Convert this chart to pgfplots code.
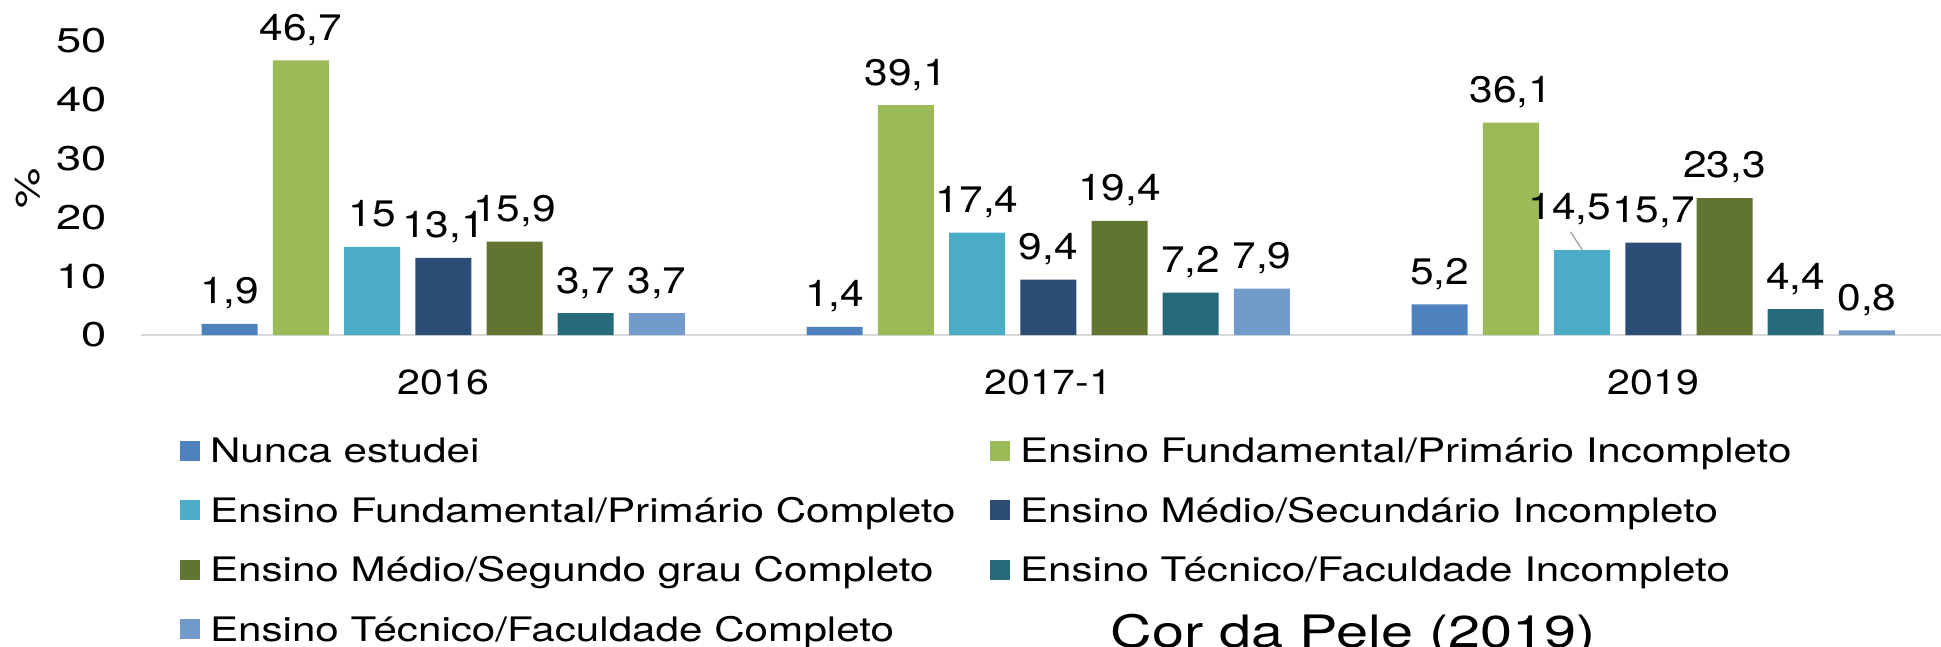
\documentclass[border=0pt]{standalone}
\usepackage{pgfplots}
\pgfplotsset{compat=1.18}
\usepackage{fontspec}
\setmainfont{TeX Gyre Heros}
\newfontfamily\tickfont[FakeStretch=1.32]{TeX Gyre Heros}
\newfontfamily\xfont[FakeStretch=1.18]{TeX Gyre Heros}
\newfontfamily\labfont[FakeStretch=1.15]{TeX Gyre Heros}
\newfontfamily\legfont[FakeStretch=1.25]{TeX Gyre Heros}
\newfontfamily\titfont[FakeStretch=1.29]{TeX Gyre Heros}
\definecolor{c1}{HTML}{4F81BD}
\definecolor{c2}{HTML}{9BBB59}
\definecolor{c3}{HTML}{4BACC6}
\definecolor{c4}{HTML}{2C4D75}
\definecolor{c5}{HTML}{617530}
\definecolor{c6}{HTML}{276A7C}
\definecolor{c7}{HTML}{729ACA}
\definecolor{axgray}{HTML}{D9D9D9}
\pgfplotsset{
  mybar/.style 2 args={ybar, bar width=5.6mm, bar shift=0pt, xshift=#2, fill=#1, draw=none,
    legend image code/.code={\fill[#1, xshift={-(#2)}] (0mm,-1mm) rectangle (2mm,1mm);},
    nodes near coords,
    nodes near coords style={font=\labfont\fontsize{10.5}{12}\selectfont, text=black,
      anchor=base, inner sep=0pt, yshift=2mm}},
}
\begin{document}
\begin{tikzpicture}
\useasboundingbox (0,0) rectangle (194.1mm,-64.7mm);
\clip (0,0) rectangle (194.1mm,-64.7mm);
\begin{axis}[
  at={(14.08mm,-33.5mm)}, anchor=south west,
  scale only axis, width=181.5mm, height=29.4mm,
  xmin=-0.5, xmax=2.5, ymin=0, ymax=50,
  clip=false,
  axis x line=bottom, axis y line=left,
  x axis line style={-, draw=axgray, line width=0.65pt},
  y axis line style={draw=none},
  major tick length=0pt, tick style={draw=none},
  /pgf/number format/.cd, use comma, assume math mode=true, /pgfplots/.cd,
  xtick={0,1,2}, xticklabels={2016,2017-1,2019},
  xticklabel style={font=\xfont\fontsize{9.9}{11}\selectfont, anchor=center, inner sep=0pt, yshift=-4.75mm},
  ytick={0,10,20,30,40,50},
  yticklabel style={font=\tickfont\fontsize{9.76}{11}\selectfont, anchor=east, inner sep=0pt, xshift=-3.35mm},
  ylabel={\%},
  ylabel style={at={(axis description cs:-0.0624,0.5)}, anchor=center, inner sep=0pt,
    font=\tickfont\fontsize{9.76}{11}\selectfont},
  legend columns=2, legend cell align=left,
  legend style={draw=none, fill=none, at={(axis description cs:0.0216,-0.352)}, anchor=north west,
    inner sep=0pt, outer sep=0pt, row sep=3.52mm, column sep=0pt,
    nodes={inner sep=0pt, text height=2.43mm, text depth=0pt, font=\legfont\fontsize{9.6}{11}\selectfont},
    /tikz/every odd column/.style={column sep=1mm}},
]
\addplot[mybar={c1}{-21.36mm}] coordinates {(0,1.9) (1,1.4) (2,5.2)};
\addlegendentry{\makebox[78mm][l]{Nunca estudei}}
\addplot[mybar={c2}{-14.24mm}] coordinates {(0,46.7) (1,39.1) (2,36.1)};
\addlegendentry{Ensino Fundamental/Primário Incompleto}
\addplot[mybar={c3}{-7.12mm}] coordinates {(0,15) (1,17.4)};
\addlegendentry{\makebox[78mm][l]{Ensino Fundamental/Primário Completo}}
\addplot[mybar={c3}{-7.12mm}, forget plot, nodes near coords style={xshift=-1.23mm, yshift=1.07mm}] coordinates {(2,14.5)};
\addplot[mybar={c4}{0mm}] coordinates {(0,13.1) (1,9.4) (2,15.7)};
\addlegendentry{Ensino Médio/Secundário Incompleto}
\addplot[mybar={c5}{7.12mm}] coordinates {(0,15.9) (1,19.4) (2,23.3)};
\addlegendentry{\makebox[78mm][l]{Ensino Médio/Segundo grau Completo}}
\addplot[mybar={c6}{14.24mm}] coordinates {(0,3.7) (1,7.2) (2,4.4)};
\addlegendentry{Ensino Técnico/Faculdade Incompleto}
\addplot[mybar={c7}{21.36mm}] coordinates {(0,3.7) (1,7.9) (2,0.8)};
\addlegendentry{\makebox[78mm][l]{Ensino Técnico/Faculdade Completo}}
\draw[color={rgb,255:red,166;green,166;blue,166}, line width=0.4pt]
  ([xshift=-7.12mm]axis cs:2,14.5) -- ([xshift=-8.29mm,yshift=1.8mm]axis cs:2,14.5);
\end{axis}
\node[anchor=base west, inner sep=0pt, font=\titfont\fontsize{12.7}{14}\selectfont] at (111.0mm,-64.7mm) {Cor da Pele (2019)};
\end{tikzpicture}
\end{document}
